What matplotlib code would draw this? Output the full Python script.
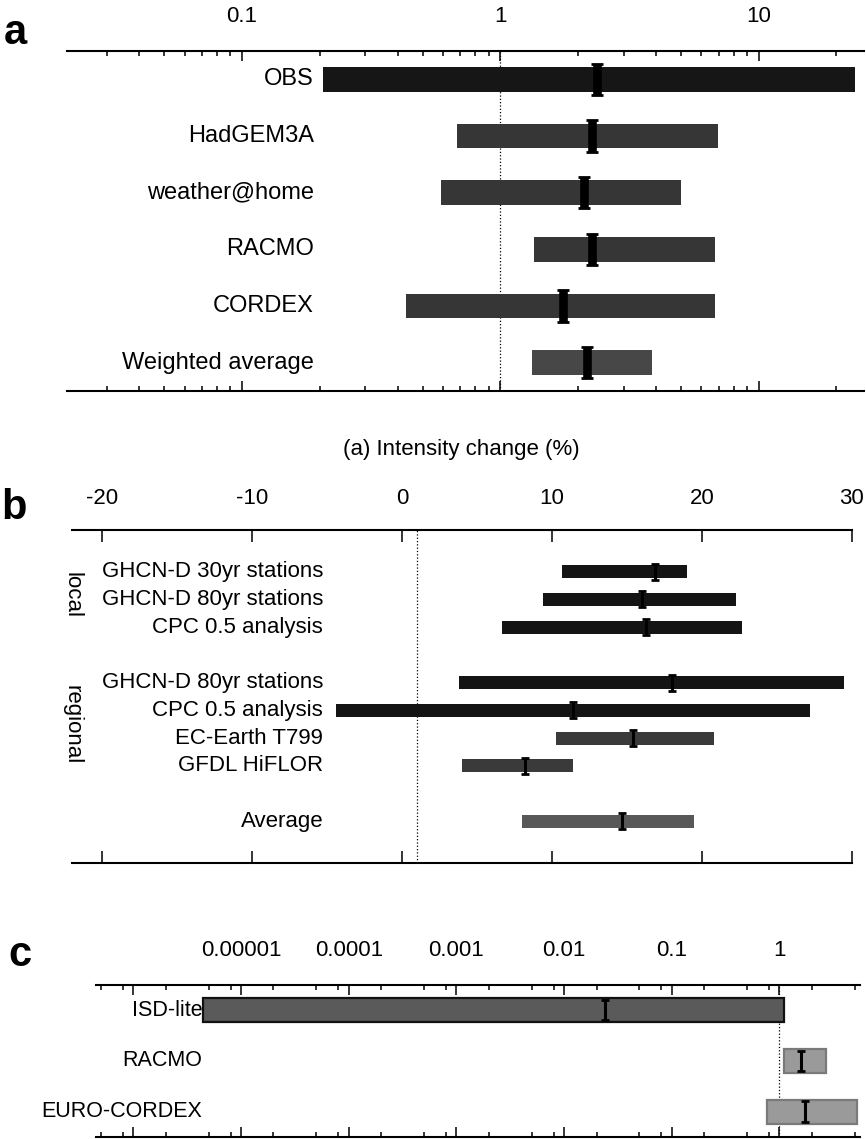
import matplotlib.pyplot as plt
from matplotlib.ticker import LogLocator, NullFormatter, FixedLocator, FixedFormatter

plt.rcParams['font.family'] = ['Liberation Sans', 'DejaVu Sans']
plt.rcParams['axes.unicode_minus'] = False

# panel a: intensity change, log scale
labels_a = ["OBS", "HadGEM3A", "weather@home", "RACMO", "CORDEX", "Weighted average"]
lo_a = [0.206, 0.68, 0.59, 1.35, 0.43, 1.33]
hi_a = [23.5, 6.95, 5.0, 6.8, 6.8, 3.85]
best_a = [2.36, 2.27, 2.1, 2.27, 1.75, 2.17]
colors_a = ["#161616", "#363636", "#363636", "#363636", "#363636", "#474747"]

# panel b: linear scale
labels_b = ["GHCN-D 30yr stations", "GHCN-D 80yr stations", "CPC 0.5 analysis",
            "GHCN-D 80yr stations", "CPC 0.5 analysis", "EC-Earth T799",
            "GFDL HiFLOR", "Average"]
rows_b = [0, 1, 2, 4, 5, 6, 7, 9]
lo_b = [10.7, 9.4, 6.7, 3.8, -4.4, 10.3, 4.0, 8.0]
hi_b = [19.0, 22.3, 22.7, 29.5, 27.2, 20.8, 11.4, 19.5]
best_b = [16.9, 16.0, 16.3, 18.0, 11.4, 15.4, 8.2, 14.7]
colors_b = ["#141414"] * 5 + ["#3a3a3a", "#3a3a3a", "#585858"]

# panel c: log scale
labels_c = ["ISD-lite", "RACMO", "EURO-CORDEX"]
lo_c = [4.4e-6, 1.11, 0.77]
hi_c = [1.11, 2.69, 5.25]
best_c = [0.024, 1.6, 1.71]
colors_c = ["#5a5a5a", "#9a9a9a", "#9a9a9a"]
edges_c = ["#111111", "#7a7a7a", "#7a7a7a"]

FS = 16

fig = plt.figure(figsize=(8.66, 11.39), dpi=100)
ax_a = fig.add_axes([0.0774, 0.6567, 0.920, 0.2985])
ax_b = fig.add_axes([0.0831, 0.2423, 0.9007, 0.2924])
ax_c = fig.add_axes([0.1109, 0.0018, 0.8822, 0.1335])


def style(ax, major_len=7.5, minor_len=3.8):
    for s in ["left", "right"]:
        ax.spines[s].set_visible(False)
    for s in ["top", "bottom"]:
        ax.spines[s].set_linewidth(1.5)
    ax.set_yticks([])
    ax.tick_params(axis="x", which="both", direction="in", top=True, bottom=True,
                   labeltop=True, labelbottom=False, width=1.1, labelsize=FS, pad=17)
    ax.tick_params(axis="x", which="major", length=major_len)
    ax.tick_params(axis="x", which="minor", length=minor_len)


# ---- a ----
ax = ax_a
ax.set_xscale("log")
ax.set_xlim(0.021, 25.5)
ax.set_ylim(5.5, -0.5)
ax.axvline(1, color="k", ls=":", lw=0.9, zorder=0)
ya = list(range(len(labels_a)))
wa = [h - l for l, h in zip(lo_a, hi_a)]
ax.barh(ya, wa, left=lo_a, height=0.44, color=colors_a, zorder=2)
ax.errorbar(best_a, ya, yerr=0.275, fmt="none", ecolor="k", elinewidth=6.2,
            capsize=4, capthick=2, zorder=3)
for y, t in zip(ya, labels_a):
    ax.text(0.31, y, t, transform=ax.get_yaxis_transform(), ha="right",
            va="center", fontsize=17)
ax.xaxis.set_major_locator(FixedLocator([0.1, 1, 10]))
ax.xaxis.set_major_formatter(FixedFormatter(["0.1", "1", "10"]))
ax.xaxis.set_minor_locator(LogLocator(base=10, subs=range(2, 10)))
ax.xaxis.set_minor_formatter(NullFormatter())
style(ax)
fig.text(461 / 866, 1 - 450 / 1139, "(a) Intensity change (%)", ha="center",
         va="center", fontsize=FS)

# ---- b ----
ax = ax_b
ax.set_xlim(-22, 30)
ax.set_ylim(10.5, -1.5)
ax.axvline(1, color="k", ls=":", lw=0.9, zorder=0)
wb = [h - l for l, h in zip(lo_b, hi_b)]
ax.barh(rows_b, wb, left=lo_b, height=0.47, color=colors_b, zorder=2)
ax.errorbar(best_b, rows_b, yerr=0.29, fmt="none", ecolor="k", elinewidth=2.2,
            capsize=3, capthick=2, zorder=3)
for y, t in zip(rows_b, labels_b):
    ax.text(0.322, y, t, transform=ax.get_yaxis_transform(), ha="right",
            va="center", fontsize=FS)
ax.text(0.0, 0.85, "local", transform=ax.get_yaxis_transform(), rotation=-90,
        ha="center", va="center", fontsize=FS)
ax.text(0.0, 5.5, "regional", transform=ax.get_yaxis_transform(), rotation=-90,
        ha="center", va="center", fontsize=FS)
ax.set_xticks([-20, -10, 0, 10, 20, 30])
style(ax, major_len=8.5)
ax.tick_params(axis="x", pad=15)

# ---- c ----
ax = ax_c
ax.set_xscale("log")
ax.set_xlim(4.5e-7, 5.6)
ax.set_ylim(2.5, -0.5)
ax.axvline(1, color="k", ls=":", lw=0.9, zorder=0)
yc = list(range(len(labels_c)))
wc = [h - l for l, h in zip(lo_c, hi_c)]
ax.barh(yc, wc, left=lo_c, height=0.47, color=colors_c, edgecolor=edges_c,
        linewidth=1.6, zorder=2)
ax.errorbar(best_c, yc, yerr=0.2, fmt="none", ecolor="k", elinewidth=2.2,
            capsize=3, capthick=2, zorder=3)
for y, t in zip(yc, labels_c):
    ax.text(0.139, y, t, transform=ax.get_yaxis_transform(), ha="right",
            va="center", fontsize=15.5)
ax.xaxis.set_major_locator(FixedLocator([1e-6, 1e-5, 1e-4, 1e-3, 1e-2, 1e-1, 1]))
ax.xaxis.set_major_formatter(FixedFormatter(["", "0.00001", "0.0001", "0.001",
                                             "0.01", "0.1", "1"]))
ax.xaxis.set_minor_locator(LogLocator(base=10, subs=[2, 5, 8]))
ax.xaxis.set_minor_formatter(NullFormatter())
style(ax)
ax.tick_params(axis="x", pad=17)

# panel letters
fig.text(0.004, 1 - 33 / 1139, "a", fontsize=30, fontweight="bold", va="center")
fig.text(0.002, 1 - 508 / 1139, "b", fontsize=30, fontweight="bold", va="center")
fig.text(0.010, 1 - 955 / 1139, "c", fontsize=30, fontweight="bold", va="center")

fig.savefig("out.png", dpi=100)
